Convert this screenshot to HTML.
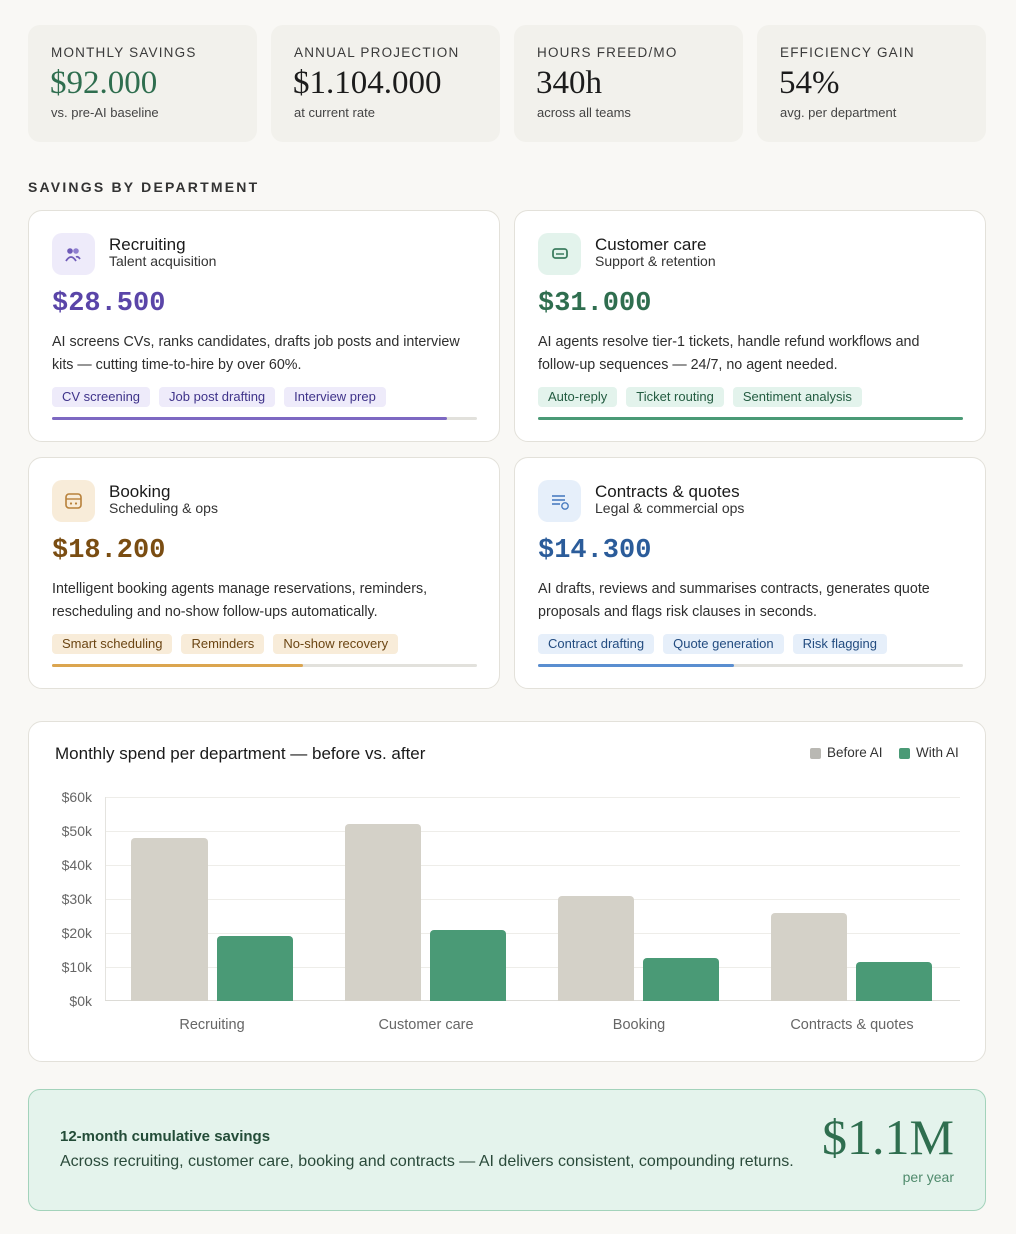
<!DOCTYPE html>
<html><head><meta charset="utf-8"><style>
*{box-sizing:border-box;margin:0;padding:0}
body{width:1016px;height:1234px;background:#f9f8f5;font-family:"Liberation Sans",sans-serif;position:relative;overflow:hidden;color:#222}
.a{position:absolute}
.kpi{position:absolute;top:25px;width:229px;height:117px;background:#f2f1ec;border-radius:12px}
.kpi .l{position:absolute;left:23px;top:20px;font-size:13.5px;letter-spacing:1.2px;color:#3a3a3a}
.kpi .v{position:absolute;left:22px;top:40px;font-family:"Liberation Serif",serif;font-size:33px;color:#1c1c1c}
.kpi .s{position:absolute;left:23px;top:80px;font-size:13px;color:#444}
.card{position:absolute;width:472px;height:232px;background:#fff;border:1px solid #e3e1da;border-radius:14px}
.ic{position:absolute;left:23px;top:22px;width:43px;height:42px;border-radius:10px}
.t{position:absolute;left:80px;top:24px;font-size:17px;color:#1a1a1a}
.st{position:absolute;left:80px;top:42px;font-size:14px;color:#333}
.amt{position:absolute;left:23px;top:78px;font-family:"Liberation Mono",monospace;font-weight:bold;font-size:27px}
.d{position:absolute;left:23px;top:120px;width:420px;font-size:14.3px;line-height:22.5px;color:#2e2e2e}
.tags{position:absolute;left:23px;top:176px;display:flex;gap:9px}
.tags span{font-size:13px;padding:2px 10px;height:20px;border-radius:4px}
.bar{position:absolute;left:23px;top:206px;width:425px;height:3px;background:#e2e1dc;border-radius:2px}
.bar i{display:block;height:3px;border-radius:2px}
.yl{position:absolute;left:40px;width:52px;text-align:right;font-size:14px;color:#666}
.gl{position:absolute;left:106px;width:854px;height:1px;background:#eeede9}
.b{position:absolute;border-radius:4px 4px 0 0}
.xl{position:absolute;top:1017px;font-size:14.5px;color:#666;width:200px;text-align:center}
</style></head><body>

<div class="kpi" style="left:28px"><div class="l">MONTHLY SAVINGS</div><div class="v" style="color:#2f6e4f">$92.000</div><div class="s">vs. pre-AI baseline</div></div>
<div class="kpi" style="left:271px"><div class="l">ANNUAL PROJECTION</div><div class="v">$1.104.000</div><div class="s">at current rate</div></div>
<div class="kpi" style="left:514px"><div class="l">HOURS FREED/MO</div><div class="v">340h</div><div class="s">across all teams</div></div>
<div class="kpi" style="left:757px"><div class="l">EFFICIENCY GAIN</div><div class="v">54%</div><div class="s">avg. per department</div></div>

<div class="a" style="left:28px;top:179px;font-size:14px;font-weight:bold;letter-spacing:2.2px;color:#333">SAVINGS BY DEPARTMENT</div>

<div class="card" style="left:28px;top:210px">
 <div class="ic" style="background:#eeebfa"><svg width="43" height="42"><circle cx="18" cy="18" r="2.8" fill="#6f5bb8"/><circle cx="24" cy="18" r="2.8" fill="#8f7fd0"/><path d="M14 28 Q19 20 24 28 M24 24 Q26 23 28 26" stroke="#6f5bb8" stroke-width="1.8" fill="none"/></svg></div>
 <div class="t">Recruiting</div><div class="st">Talent acquisition</div>
 <div class="amt" style="color:#5a45a8">$28.500</div>
 <div class="d">AI screens CVs, ranks candidates, drafts job posts and interview kits — cutting time-to-hire by over 60%.</div>
 <div class="tags"><span style="background:#eeebfa;color:#3f338a">CV screening</span><span style="background:#eeebfa;color:#3f338a">Job post drafting</span><span style="background:#eeebfa;color:#3f338a">Interview prep</span></div>
 <div class="bar"><i style="width:93%;background:#7d68c2"></i></div>
</div>

<div class="card" style="left:514px;top:210px">
 <div class="ic" style="background:#e3f3ec"><svg width="43" height="42"><rect x="15" y="16" width="14" height="9" rx="2.5" stroke="#3d7d60" stroke-width="1.8" fill="none"/><line x1="18" y1="21" x2="26" y2="21" stroke="#3d7d60" stroke-width="1.5"/></svg></div>
 <div class="t">Customer care</div><div class="st">Support &amp; retention</div>
 <div class="amt" style="color:#2f6e4f">$31.000</div>
 <div class="d">AI agents resolve tier-1 tickets, handle refund workflows and follow-up sequences — 24/7, no agent needed.</div>
 <div class="tags"><span style="background:#e3f3ec;color:#235c41">Auto-reply</span><span style="background:#e3f3ec;color:#235c41">Ticket routing</span><span style="background:#e3f3ec;color:#235c41">Sentiment analysis</span></div>
 <div class="bar"><i style="width:100%;background:#4a9a76"></i></div>
</div>

<div class="card" style="left:28px;top:457px">
 <div class="ic" style="background:#f8ecd9"><svg width="43" height="42"><rect x="14" y="14" width="15" height="14" rx="3" stroke="#b8813a" stroke-width="1.6" fill="none"/><line x1="14" y1="19" x2="29" y2="19" stroke="#b8813a" stroke-width="1.4"/><circle cx="19" cy="23.5" r="1.1" fill="#b8813a"/><circle cx="24" cy="23.5" r="1.1" fill="#b8813a"/></svg></div>
 <div class="t">Booking</div><div class="st">Scheduling &amp; ops</div>
 <div class="amt" style="color:#7a4d12">$18.200</div>
 <div class="d">Intelligent booking agents manage reservations, reminders, rescheduling and no-show follow-ups automatically.</div>
 <div class="tags"><span style="background:#f8ecd9;color:#6b4513">Smart scheduling</span><span style="background:#f8ecd9;color:#6b4513">Reminders</span><span style="background:#f8ecd9;color:#6b4513">No-show recovery</span></div>
 <div class="bar"><i style="width:59%;background:#dba54f"></i></div>
</div>

<div class="card" style="left:514px;top:457px">
 <div class="ic" style="background:#e6effa"><svg width="43" height="42"><line x1="14" y1="16" x2="27" y2="16" stroke="#4a7cc0" stroke-width="1.6"/><line x1="14" y1="20" x2="27" y2="20" stroke="#4a7cc0" stroke-width="1.6"/><line x1="14" y1="24" x2="22" y2="24" stroke="#4a7cc0" stroke-width="1.6"/><circle cx="27" cy="26" r="3.2" stroke="#4a7cc0" stroke-width="1.4" fill="#e6effa"/></svg></div>
 <div class="t">Contracts &amp; quotes</div><div class="st">Legal &amp; commercial ops</div>
 <div class="amt" style="color:#2b5c9a">$14.300</div>
 <div class="d">AI drafts, reviews and summarises contracts, generates quote proposals and flags risk clauses in seconds.</div>
 <div class="tags"><span style="background:#e6effa;color:#234c80">Contract drafting</span><span style="background:#e6effa;color:#234c80">Quote generation</span><span style="background:#e6effa;color:#234c80">Risk flagging</span></div>
 <div class="bar"><i style="width:46%;background:#5a8ed0"></i></div>
</div>

<div class="a" style="left:28px;top:721px;width:958px;height:341px;background:#fff;border:1px solid #e3e1da;border-radius:14px"></div>
<div class="a" style="left:55px;top:744px;font-size:17px;color:#1a1a1a">Monthly spend per department — before vs. after</div>
<div class="a" style="left:810px;top:748px;width:11px;height:11px;border-radius:2px;background:#b9b8b3"></div>
<div class="a" style="left:827px;top:745px;font-size:13.5px;color:#333">Before AI</div>
<div class="a" style="left:899px;top:748px;width:11px;height:11px;border-radius:2px;background:#4a9a76"></div>
<div class="a" style="left:916px;top:745px;font-size:13.5px;color:#333">With AI</div>

<div class="gl" style="top:797px"></div><div class="gl" style="top:831px"></div><div class="gl" style="top:865px"></div><div class="gl" style="top:899px"></div><div class="gl" style="top:933px"></div><div class="gl" style="top:967px"></div>
<div class="a" style="left:105px;top:797px;width:1px;height:204px;background:#e4e3df"></div>
<div class="a" style="left:105px;top:1000px;width:855px;height:1px;background:#dcdbd6"></div>
<div class="yl" style="top:789px">$60k</div><div class="yl" style="top:823px">$50k</div><div class="yl" style="top:857px">$40k</div><div class="yl" style="top:891px">$30k</div><div class="yl" style="top:925px">$20k</div><div class="yl" style="top:959px">$10k</div><div class="yl" style="top:993px">$0k</div>

<div class="b" style="left:131px;top:838px;width:77px;height:163px;background:#d4d1c8"></div>
<div class="b" style="left:217px;top:936px;width:76px;height:65px;background:#4a9a76"></div>
<div class="b" style="left:345px;top:824px;width:76px;height:177px;background:#d4d1c8"></div>
<div class="b" style="left:430px;top:930px;width:76px;height:71px;background:#4a9a76"></div>
<div class="b" style="left:558px;top:896px;width:76px;height:105px;background:#d4d1c8"></div>
<div class="b" style="left:643px;top:958px;width:76px;height:43px;background:#4a9a76"></div>
<div class="b" style="left:771px;top:913px;width:76px;height:88px;background:#d4d1c8"></div>
<div class="b" style="left:856px;top:962px;width:76px;height:39px;background:#4a9a76"></div>

<div class="xl" style="left:112px">Recruiting</div>
<div class="xl" style="left:326px">Customer care</div>
<div class="xl" style="left:539px">Booking</div>
<div class="xl" style="left:752px">Contracts &amp; quotes</div>

<div class="a" style="left:28px;top:1089px;width:958px;height:122px;background:#e4f3ec;border:1px solid #a3d3bb;border-radius:12px"></div>
<div class="a" style="left:60px;top:1128px;font-size:15px;font-weight:bold;color:#234c38">12-month cumulative savings</div>
<div class="a" style="left:60px;top:1153px;font-size:16px;color:#2a4a3a">Across recruiting, customer care, booking and contracts — AI delivers consistent, compounding returns.</div>
<div class="a" style="right:62px;top:1108px;font-family:'Liberation Serif',serif;font-size:50px;color:#2f6e4f">$1.1M</div>
<div class="a" style="right:62px;top:1169px;font-size:14px;color:#4f8a6c">per year</div>
</body></html>
